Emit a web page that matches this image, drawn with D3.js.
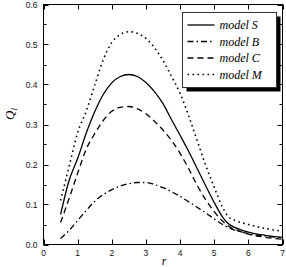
<!DOCTYPE html>
<html>
<head>
<meta charset="utf-8">
<script src="https://d3js.org/d3.v7.min.js"></script>
<style>
    body { margin: 0; background: #fff; }
    .tickLabel { font-family: "Liberation Sans", Arial, sans-serif; font-size: 8.5px; fill: #111; }
    .legendText { font-family: "Liberation Serif", "Times New Roman", serif; font-style: italic; font-size: 12px; fill: #000; }
    .axisTitle { font-family: "Liberation Serif", "Times New Roman", serif; font-style: italic; fill: #000; }
</style>
</head>
<body>
<script>
(function(){

    //radial positions shared by every model
    var rValues = [0.5, 0.75, 1.0, 1.25, 1.5, 1.75, 2.0, 2.25, 2.5, 2.75, 3.0, 3.25, 3.5,
                   3.75, 4.0, 4.25, 4.5, 4.75, 5.0, 5.25, 5.4, 5.6, 6.0, 6.5, 7.0];

    //Q_l
    var modelS = [0.075, 0.16, 0.215, 0.278, 0.332, 0.375, 0.404, 0.42, 0.425, 0.42, 0.405, 0.382, 0.352,
                  0.312, 0.273, 0.233, 0.19, 0.147, 0.105, 0.068, 0.053, 0.043, 0.031, 0.023, 0.018];
    var modelB = [0.015, 0.035, 0.06, 0.085, 0.108, 0.125, 0.137, 0.146, 0.152, 0.155, 0.155, 0.15, 0.142,
                  0.132, 0.12, 0.107, 0.093, 0.079, 0.064, 0.05, 0.043, 0.036, 0.027, 0.021, 0.017];
    var modelC = [0.055, 0.115, 0.178, 0.238, 0.277, 0.31, 0.333, 0.343, 0.345, 0.339, 0.327, 0.308, 0.286,
                  0.26, 0.228, 0.19, 0.148, 0.112, 0.082, 0.058, 0.047, 0.038, 0.026, 0.018, 0.013];
    var modelM = [0.11, 0.195, 0.28, 0.333, 0.398, 0.462, 0.505, 0.525, 0.532, 0.528, 0.515, 0.492, 0.46,
                  0.42, 0.378, 0.322, 0.26, 0.198, 0.143, 0.092, 0.071, 0.061, 0.05, 0.04, 0.033];

    var seriesNames = ["model S", "model B", "model C", "model M"];
    var seriesData = [modelS, modelB, modelC, modelM];
    var dashStyles = ["none", "6,3,1.5,3", "6,4", "1.6,3.4"];

    var xTicks = [0, 1, 2, 3, 4, 5, 6, 7];
    var yTicks = [0.0, 0.1, 0.2, 0.3, 0.4, 0.5, 0.6];
    var yMinorTicks = [0.05, 0.15, 0.25, 0.35, 0.45, 0.55];

    window.onload = setChart();

    function setChart(){

        var width = 286,
            height = 267;
        var margin = {left: 43.5, right: 3.5, top: 4.5, bottom: 22.5};

        var svg = d3.select("body")
            .append("svg")
            .attr("width", width)
            .attr("height", height);

        //scales
        var x = d3.scaleLinear()
            .domain([0, 7])
            .range([margin.left, width - margin.right]);
        var y = d3.scaleLinear()
            .domain([0, 0.6])
            .range([height - margin.bottom, margin.top]);

        drawFrame(svg, x, y);
        drawCurves(svg, x, y);
        drawLegend(svg);
        drawTitles(svg, x, y);
    };

    function drawFrame(svg, x, y){

        var x0 = x.range()[0], x1 = x.range()[1];
        var y0 = y.range()[0], y1 = y.range()[1];

        //frame
        svg.append("rect")
            .attr("x", x0)
            .attr("y", y1)
            .attr("width", x1 - x0)
            .attr("height", y0 - y1)
            .style("fill", "none")
            .style("stroke", "#000")
            .style("stroke-width", 1);

        //x ticks, inward on bottom and top
        var ticks = svg.append("g").style("stroke", "#000").style("stroke-width", 1);
        xTicks.forEach(function(t){
            var px = Math.round(x(t)) + 0.5;
            ticks.append("line").attr("x1", px).attr("x2", px).attr("y1", y0).attr("y2", y0 - 5);
            ticks.append("line").attr("x1", px).attr("x2", px).attr("y1", y1).attr("y2", y1 + 5);
        });

        //y ticks, inward on left and right
        yTicks.forEach(function(t){
            var py = Math.round(y(t)) + 0.5;
            ticks.append("line").attr("x1", x0).attr("x2", x0 + 5).attr("y1", py).attr("y2", py);
            ticks.append("line").attr("x1", x1).attr("x2", x1 - 5).attr("y1", py).attr("y2", py);
        });
        yMinorTicks.forEach(function(t){
            var py = Math.round(y(t)) + 0.5;
            ticks.append("line").attr("x1", x0).attr("x2", x0 + 3).attr("y1", py).attr("y2", py);
            ticks.append("line").attr("x1", x1).attr("x2", x1 - 3).attr("y1", py).attr("y2", py);
        });

        //tick labels
        svg.selectAll(".xLabel")
            .data(xTicks)
            .enter()
            .append("text")
            .attr("class", "tickLabel")
            .attr("x", function(d){ return x(d); })
            .attr("y", y0 + 11)
            .attr("text-anchor", "middle")
            .text(function(d){ return d; });

        svg.selectAll(".yLabel")
            .data(yTicks)
            .enter()
            .append("text")
            .attr("class", "tickLabel")
            .attr("x", x0 - 6)
            .attr("y", function(d){ return y(d) + 3; })
            .attr("text-anchor", "end")
            .text(function(d){ return d3.format(".1f")(d); });
    };

    function drawCurves(svg, x, y){

        var line = d3.line()
            .x(function(d){ return x(d[0]); })
            .y(function(d){ return y(d[1]); })
            .curve(d3.curveMonotoneX);

        seriesData.forEach(function(vals, i){
            svg.append("path")
                .datum(d3.zip(rValues, vals))
                .attr("d", line)
                .style("fill", "none")
                .style("stroke", "#000")
                .style("stroke-width", i == 3 ? 1.6 : 1.3)
                .style("stroke-dasharray", dashStyles[i]);
        });
    };

    function drawLegend(svg){

        var bx = 182.5, by = 12.5, bw = 94, bh = 75;

        //drop shadow
        svg.append("rect")
            .attr("x", bx + 4)
            .attr("y", by + 4)
            .attr("width", bw)
            .attr("height", bh)
            .style("fill", "#000");

        svg.append("rect")
            .attr("x", bx)
            .attr("y", by)
            .attr("width", bw)
            .attr("height", bh)
            .style("fill", "#fff")
            .style("stroke", "#333")
            .style("stroke-width", 1);

        seriesNames.forEach(function(name, i){
            var ry = by + 12.5 + i * 16.5;
            svg.append("line")
                .attr("x1", bx + 5)
                .attr("x2", bx + 32)
                .attr("y1", ry)
                .attr("y2", ry)
                .style("stroke", "#000")
                .style("stroke-width", i == 3 ? 1.6 : 1.3)
                .style("stroke-dasharray", dashStyles[i]);
            svg.append("text")
                .attr("class", "legendText")
                .attr("x", bx + 37)
                .attr("y", ry + 4)
                .text(name);
        });
    };

    function drawTitles(svg, x, y){

        //x axis title
        svg.append("text")
            .attr("class", "axisTitle")
            .attr("x", 164)
            .attr("y", 265)
            .attr("text-anchor", "middle")
            .style("font-size", "12px")
            .text("r");

        //y axis title Q_l
        var yt = svg.append("text")
            .attr("class", "axisTitle")
            .attr("transform", "translate(14,114) rotate(-90)")
            .attr("text-anchor", "middle")
            .style("font-size", "13px");
        yt.append("tspan").text("Q");
        yt.append("tspan")
            .attr("dy", 3)
            .style("font-size", "9px")
            .text("l");
    };
})();
</script>
</body>
</html>
